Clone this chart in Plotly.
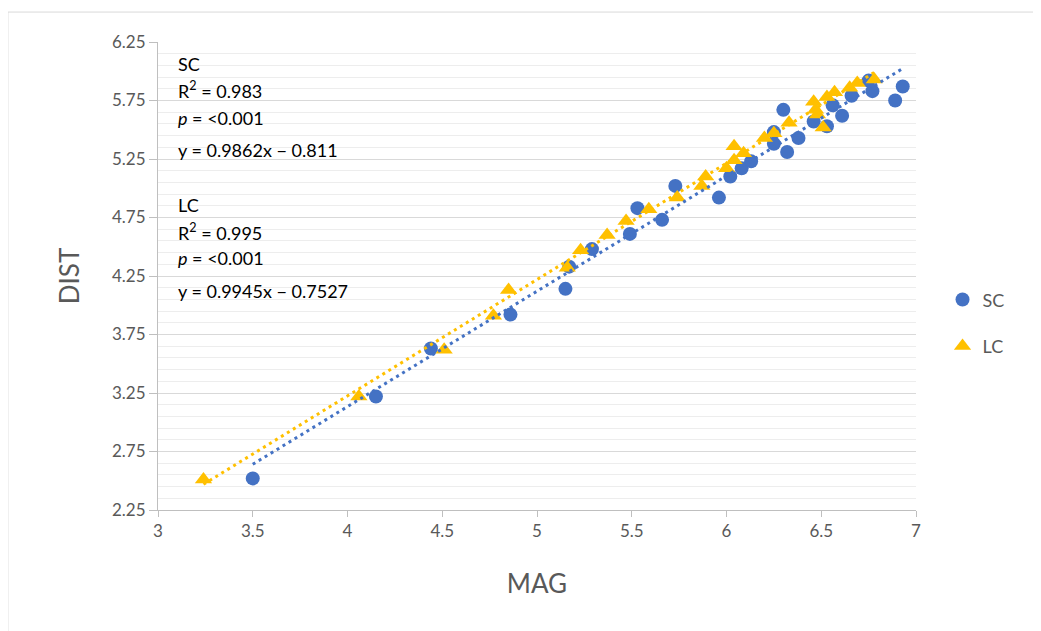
import plotly.graph_objects as go

# --- data ---
sc_mag = [3.50, 4.15, 4.44, 4.86, 5.15, 5.17, 5.29, 5.49, 5.53, 5.66, 5.73, 5.96, 6.02, 6.08,
          6.13, 6.25, 6.25, 6.30, 6.32, 6.38, 6.46, 6.53, 6.56, 6.61, 6.66, 6.75, 6.77, 6.89, 6.93]
sc_dist = [2.52, 3.22, 3.63, 3.92, 4.14, 4.33, 4.48, 4.61, 4.83, 4.73, 5.02, 4.92, 5.10, 5.17,
           5.23, 5.48, 5.38, 5.67, 5.31, 5.43, 5.57, 5.53, 5.71, 5.62, 5.79, 5.92, 5.83, 5.75, 5.87]

lc_mag = [3.24, 4.06, 4.51, 4.77, 4.85, 5.16, 5.23, 5.37, 5.47, 5.59, 5.74, 5.87, 5.89, 6.00,
          6.04, 6.04, 6.09, 6.20, 6.25, 6.33, 6.46, 6.47, 6.48, 6.51, 6.53, 6.57, 6.65, 6.69, 6.78]
lc_dist = [2.51, 3.22, 3.62, 3.91, 4.13, 4.32, 4.47, 4.60, 4.72, 4.82, 4.92, 5.02, 5.10, 5.17,
           5.24, 5.36, 5.30, 5.43, 5.47, 5.56, 5.74, 5.67, 5.63, 5.52, 5.78, 5.82, 5.86, 5.90, 5.93]

sc_slope, sc_intercept, sc_r2 = 0.9862, -0.811, 0.983
lc_slope, lc_intercept, lc_r2 = 0.9945, -0.7527, 0.995

x_ticks = [3, 3.5, 4, 4.5, 5, 5.5, 6, 6.5, 7]
y_ticks = [2.25, 2.75, 3.25, 3.75, 4.25, 4.75, 5.25, 5.75, 6.25]

BLUE = "#4472C4"
GOLD = "#FFC000"
FONT = "Lato"
GREY = "#595959"

fig = go.Figure()

fig.add_trace(go.Scatter(x=sc_mag, y=sc_dist, mode="markers", name="SC", legendgroup="sc",
                         marker=dict(symbol="circle", size=14, color=BLUE)))
fig.add_trace(go.Scatter(x=lc_mag, y=lc_dist, mode="markers", name="LC", legendgroup="lc",
                         marker=dict(symbol="triangle-up", size=15, color=GOLD)))

# trendlines from the fitted equations, across each series' x range
for xs, m, b, col in [(sc_mag, sc_slope, sc_intercept, BLUE), (lc_mag, lc_slope, lc_intercept, GOLD)]:
    x0, x1 = min(xs), max(xs)
    fig.add_trace(go.Scatter(x=[x0, x1], y=[m * x0 + b, m * x1 + b], mode="lines",
                             showlegend=False, hoverinfo="skip",
                             line=dict(color=col, width=3, dash="3px,4px")))

texts = [
    ("SC", 0.953),
    (f"R<sup>2</sup> = {sc_r2}", 0.897),
    ("<i>p</i> = &lt;0.001", 0.838),
    (f"y = {sc_slope}x − {abs(sc_intercept)}", 0.769),
    ("LC", 0.652),
    (f"R<sup>2</sup> = {lc_r2}", 0.594),
    ("<i>p</i> = &lt;0.001", 0.538),
    (f"y = {lc_slope}x − {abs(lc_intercept)}", 0.468),
]
for t, yp in texts:
    fig.add_annotation(text=t, xref="paper", yref="paper", x=0.0237, y=yp,
                       xanchor="left", yanchor="middle", showarrow=False,
                       font=dict(family=FONT, size=18, color="#000000"))

# outer chart border
fig.add_shape(type="rect", xref="paper", yref="paper", x0=-0.198, x1=1.161, y0=-0.3, y1=1.064,
              line=dict(color="#D9D9D9", width=1), fillcolor="rgba(0,0,0,0)", layer="below")

fig.update_layout(
    width=1041, height=631,
    margin=dict(l=150, r=133, t=34, b=129),
    paper_bgcolor="white", plot_bgcolor="white",
    font=dict(family=FONT, size=17, color=GREY),
    legend=dict(x=1.035, y=0.40, xanchor="left", yanchor="middle",
                font=dict(family=FONT, size=18, color=GREY),
                traceorder="grouped", tracegroupgap=20, itemwidth=30),
    showlegend=True,
)

fig.update_xaxes(
    range=[3, 7], tickmode="array", tickvals=x_ticks, ticktext=[f"{v:g}" for v in x_ticks],
    showgrid=False, zeroline=False,
    showline=True, linecolor="#BFBFBF", linewidth=1,
    ticks="outside", ticklen=6, tickcolor="#BFBFBF",
    tickfont=dict(family=FONT, size=17, color=GREY),
    title=dict(text="MAG", font=dict(family=FONT, size=26, color=GREY), standoff=34),
)
fig.update_yaxes(
    range=[2.25, 6.25], tickmode="array", tickvals=y_ticks, ticktext=[f"{v:.2f}" for v in y_ticks],
    showgrid=True, gridcolor="#D9D9D9", gridwidth=1.2, zeroline=False,
    minor=dict(tick0=2.25, dtick=0.1, showgrid=True, gridcolor="#EDEDED", gridwidth=1.2),
    showline=True, linecolor="#BFBFBF", linewidth=1,
    ticks="outside", ticklen=8, tickcolor="#BFBFBF",
    tickfont=dict(family=FONT, size=17, color=GREY),
    title=dict(text="DIST", font=dict(family=FONT, size=26, color=GREY), standoff=24),
)

fig.write_html("out.html")
